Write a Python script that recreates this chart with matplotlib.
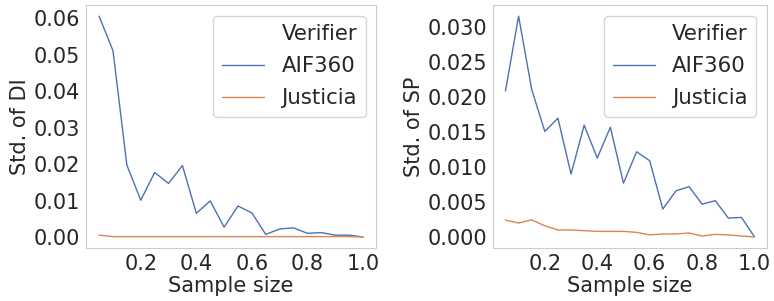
import numpy as np
import seaborn as sns
from matplotlib import pyplot as plt
from matplotlib.lines import Line2D

# sample sizes
sizes = [0.05, 0.10, 0.15, 0.20, 0.25, 0.30, 0.35, 0.40, 0.45, 0.50,
         0.55, 0.60, 0.65, 0.70, 0.75, 0.80, 0.85, 0.90, 0.95, 1.00]

# std. of DI
di_aif360 = [0.0606, 0.0511, 0.0197, 0.0101, 0.0177, 0.0147, 0.0196, 0.0065, 0.0099, 0.0027,
             0.0085, 0.0066, 0.0007, 0.0022, 0.0025, 0.0010, 0.0012, 0.0005, 0.0005, 0.0000]
di_justicia = [0.0005, 0.0001, 0.0001, 0.0001, 0.0001, 0.0001, 0.0001, 0.0001, 0.0001, 0.0001,
               0.0001, 0.0001, 0.0001, 0.0001, 0.0001, 0.0001, 0.0001, 0.0001, 0.0001, 0.0000]

# std. of SP
sp_aif360 = [0.0209, 0.0316, 0.0211, 0.0151, 0.0170, 0.0090, 0.0160, 0.0113, 0.0157, 0.0077,
             0.0122, 0.0109, 0.0040, 0.0066, 0.0072, 0.0047, 0.0052, 0.0027, 0.0028, 0.0000]
sp_justicia = [0.00242, 0.0020, 0.00246, 0.0016, 0.0010, 0.0010, 0.0009, 0.0008, 0.0008, 0.0008,
               0.00066, 0.0003, 0.00043, 0.00043, 0.00057, 0.00014, 0.00037, 0.0003, 0.00014, 0.0000]

sns.set_style("white")
plt.rcParams['font.family'] = ['DejaVu Sans']
plt.rcParams['font.size'] = 15

blue = "#4C72B0"
orange = "#DD8452"
txt = "0.15"

fig = plt.figure(figsize=(7.74, 3.01), dpi=100)
ax1 = fig.add_axes([0.111, 0.176, 0.375, 0.807])
ax2 = fig.add_axes([0.637, 0.176, 0.354, 0.807])

def draw(ax, a, j, ylabel):
    ax.plot(sizes, a, color=blue, lw=1.0)
    ax.plot(sizes, j, color=orange, lw=1.0)
    ax.set_xlabel("Sample size", fontsize=15, color=txt, labelpad=2)
    ax.set_ylabel(ylabel, fontsize=15, color=txt, labelpad=3)
    ax.set_xticks([0.2, 0.4, 0.6, 0.8, 1.0])
    ax.tick_params(labelsize=15, colors=txt, length=0, pad=4)
    for s in ax.spines.values():
        s.set_color("0.8")
    handles = [Line2D([], [], color="none"),
               Line2D([], [], color=blue, lw=1.0),
               Line2D([], [], color=orange, lw=1.0)]
    leg = ax.legend(handles, ["Verifier", "AIF360", "Justicia"], loc="upper right",
                    fontsize=15.3, frameon=True, edgecolor="0.8", borderaxespad=0.5,
                    handlelength=2.0, labelspacing=0.57)
    for t in leg.get_texts():
        t.set_color(txt)

draw(ax1, di_aif360, di_justicia, "Std. of DI")
ax1.set_yticks([0.0, 0.01, 0.02, 0.03, 0.04, 0.05, 0.06])
ax1.set_yticklabels(["0.00", "0.01", "0.02", "0.03", "0.04", "0.05", "0.06"])

draw(ax2, sp_aif360, sp_justicia, "Std. of SP")
ax2.set_yticks([0.0, 0.005, 0.01, 0.015, 0.02, 0.025, 0.03])
ax2.set_yticklabels(["0.000", "0.005", "0.010", "0.015", "0.020", "0.025", "0.030"])

fig.savefig("out.png", dpi=100)
